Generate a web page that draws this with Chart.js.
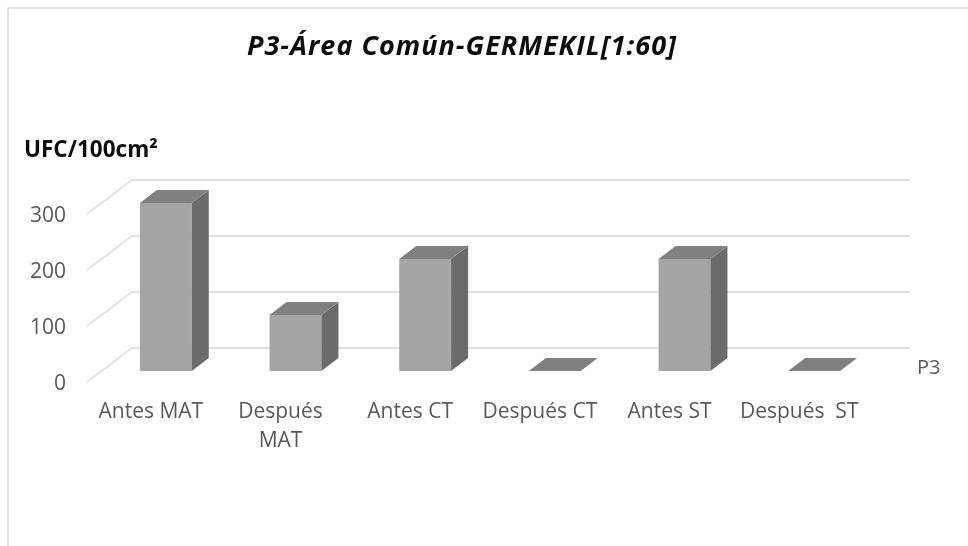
<!DOCTYPE html>
<html>
<head>
<meta charset="utf-8">
<title>P3-Área Común-GERMEKIL[1:60]</title>
<script src="https://cdn.jsdelivr.net/npm/chart.js@4.4.1/dist/chart.umd.min.js"></script>
<style>
  html, body { margin: 0; padding: 0; background: #fff; }
  canvas { display: block; }
</style>
</head>
<body>
<canvas id="chart" width="968" height="546"></canvas>
<script>
const chartTitle = "P3-Área Común-GERMEKIL[1:60]";
const yAxisTitle = "UFC/100cm²";
const seriesName = "P3";
const categories = ["Antes MAT", ["Después", "MAT"], "Antes CT", "Después CT", "Antes ST", "Después  ST"];
const values = [300, 100, 200, 0, 200, 0];
const yTicks = [0, 100, 200, 300];

// 3d look: offsets from bar front plane
const BACK = { x: 31, y: -23 };
const FRONT = { x: -14, y: 11 };
const BAR_DEPTH = { x: 17, y: -13 };
const FONT = "'Open Sans', 'Noto Sans', sans-serif";

const depth3d = {
    id: "depth3d",
    beforeDraw(chart) {
        const ctx = chart.ctx;
        ctx.save();
        ctx.fillStyle = "#fff";
        ctx.fillRect(0, 0, chart.width, chart.height);
        ctx.strokeStyle = "#d9d9d9";
        ctx.lineWidth = 1.5;
        ctx.beginPath();
        ctx.moveTo(8, chart.height);
        ctx.lineTo(8, 8);
        ctx.lineTo(chart.width, 8);
        ctx.stroke();

        ctx.fillStyle = "#0d0d0d";
        ctx.font = "italic bold 27px " + FONT;
        ctx.letterSpacing = "1px";
        ctx.textAlign = "center";
        ctx.textBaseline = "middle";
        ctx.fillText(chartTitle, 462, 47);

        ctx.letterSpacing = "0px";
        ctx.font = "bold 22.5px " + FONT;
        ctx.textAlign = "left";
        ctx.fillText(yAxisTitle, 24, 151);
        ctx.restore();
    },
    beforeDatasetsDraw(chart) {
        const ctx = chart.ctx;
        const area = chart.chartArea;
        const y = chart.scales.y;
        ctx.save();
        ctx.strokeStyle = "#d9d9d9";
        ctx.lineWidth = 1.5;
        yTicks.forEach(v => {
            const py = y.getPixelForValue(v);
            ctx.beginPath();
            ctx.moveTo(area.left + FRONT.x, py + FRONT.y);
            ctx.lineTo(area.left + BACK.x, py + BACK.y);
            ctx.lineTo(area.right + BACK.x, py + BACK.y);
            ctx.stroke();
        });
        ctx.restore();
    },
    afterDatasetsDraw(chart) {
        const ctx = chart.ctx;
        const meta = chart.getDatasetMeta(0);
        ctx.save();
        meta.data.forEach(bar => {
            const p = bar.getProps(["x", "y", "base", "width"], true);
            const l = p.x - p.width / 2;
            const r = p.x + p.width / 2;
            // side
            ctx.fillStyle = "#6b6b6b";
            ctx.beginPath();
            ctx.moveTo(r, p.y);
            ctx.lineTo(r + BAR_DEPTH.x, p.y + BAR_DEPTH.y);
            ctx.lineTo(r + BAR_DEPTH.x, p.base + BAR_DEPTH.y);
            ctx.lineTo(r, p.base);
            ctx.closePath();
            ctx.fill();
            // top
            ctx.fillStyle = "#808080";
            ctx.beginPath();
            ctx.moveTo(l, p.y);
            ctx.lineTo(r, p.y);
            ctx.lineTo(r + BAR_DEPTH.x, p.y + BAR_DEPTH.y);
            ctx.lineTo(l + BAR_DEPTH.x, p.y + BAR_DEPTH.y);
            ctx.closePath();
            ctx.fill();
        });
        ctx.restore();
    },
    afterDraw(chart) {
        const ctx = chart.ctx;
        const area = chart.chartArea;
        ctx.save();
        ctx.fillStyle = "#595959";
        ctx.font = "20px " + FONT;
        ctx.textAlign = "left";
        ctx.textBaseline = "middle";
        ctx.fillText(seriesName, area.right + 38, area.bottom - 3);
        ctx.restore();
    }
};

new Chart(document.getElementById("chart"), {
    type: "bar",
    data: {
        labels: categories,
        datasets: [{
            label: seriesName,
            data: values,
            backgroundColor: "#a5a5a5",
            borderWidth: 0,
            barPercentage: 0.4,
            categoryPercentage: 1
        }]
    },
    options: {
        responsive: false,
        animation: false,
        layout: { padding: { left: 0, right: 89, top: 203, bottom: 0 } },
        plugins: {
            legend: { display: false },
            title: { display: false },
            tooltip: { enabled: false }
        },
        scales: {
            x: {
                grid: { display: false, drawTicks: false },
                border: { display: false },
                ticks: {
                    color: "#595959",
                    font: { family: FONT, size: 21, lineHeight: 1.4 },
                    padding: 26,
                    labelOffset: -15,
                    maxRotation: 0,
                    autoSkip: false
                },
                afterFit: (s) => { s.height = 175; }
            },
            y: {
                min: 0,
                max: 300,
                grid: { display: false, drawTicks: false },
                border: { display: false },
                ticks: {
                    stepSize: 100,
                    color: "#595959",
                    font: { family: FONT, size: 21 },
                    padding: 35,
                    labelOffset: 13
                },
                afterFit: (s) => { s.width = 101; }
            }
        }
    },
    plugins: [depth3d]
});
</script>
</body>
</html>
